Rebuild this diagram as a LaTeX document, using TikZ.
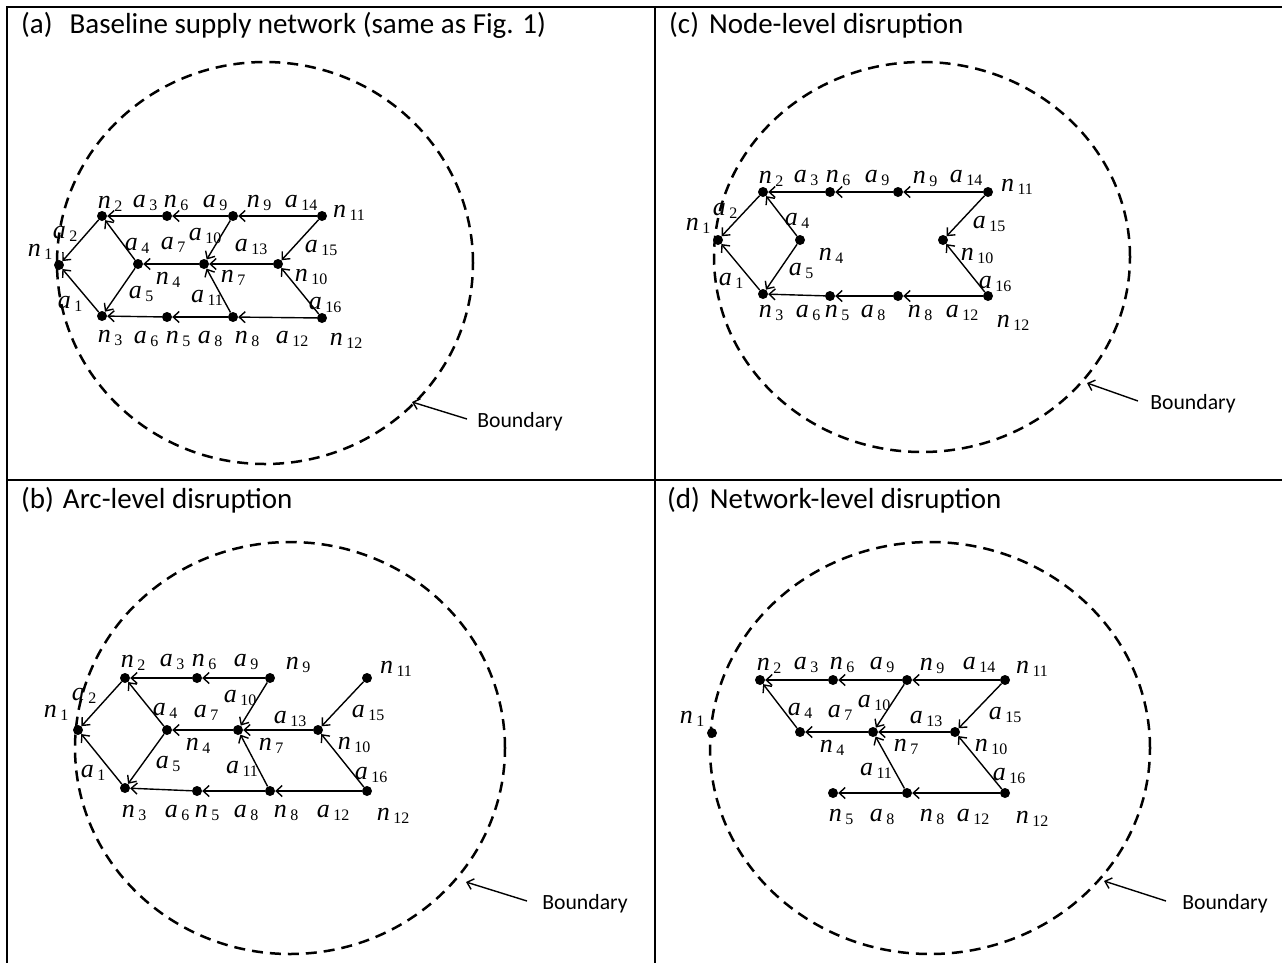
\documentclass[tikz,border=0pt]{standalone}
\usepackage{fontspec}
\setmainfont{Liberation Serif}
\newfontfamily\calfont{Carlito}
\usetikzlibrary{arrows.meta}
\newcommand{\lbl}[2]{{\fontsize{26}{26}\selectfont\itshape #1}\hspace{3.5pt}\raisebox{-3pt}{\fontsize{16}{16}\selectfont #2}}
\tikzset{
  frame/.style={line width=2pt, line cap=rect},
  dotn/.style={circle, fill=black, inner sep=0pt, minimum size=10pt},
  arc/.style={line width=1.4pt, -{Straight Barb[length=6pt,width=11pt]}},
  lab/.style={inner sep=0pt, font=\rmfamily},
  bound/.style={line width=2.5pt, dash pattern=on 11pt off 7pt},
  title/.style={inner sep=0pt, font=\calfont\fontsize{29}{32}\selectfont, anchor=base west},
  bnd/.style={inner sep=0pt, font=\calfont\fontsize{21.7}{24}\selectfont}
}
\begin{document}
\begin{tikzpicture}[x=1pt, y=-1pt]
\useasboundingbox (0,0) rectangle (1282,962);
% frame
\draw[frame] (7,962) -- (7,7) -- (1282,7);
\draw[frame] (7,480) -- (1282,480);
\draw[frame] (655,7) -- (655,962);
% titles
\node[title] (ta) at (21,33) {(a)\hspace{17pt}Baseline supply network (same as Fig. 1)};
\node[title] (tb) at (21,508) {(b)\hspace{9pt}Arc-level disruption};
\node[title] (tc) at (669,33) {(c)\hspace{10pt}Node-level disruption};
\node[title] (td) at (667,508) {(d)\hspace{10pt}Network-level disruption};
% boundaries
\draw[bound] (265,263) ellipse [x radius=208pt, y radius=201pt];
\draw[bound] (290,748) ellipse [x radius=215pt, y radius=206pt];
\draw[bound] (922,257) ellipse [x radius=208pt, y radius=195pt];
\draw[bound] (930,748) ellipse [x radius=220pt, y radius=206pt];
\node[bnd] (Ab) at (520,422) {Boundary};
\node[bnd] (Bb) at (585,904) {Boundary};
\node[bnd] (Cb) at (1193,404) {Boundary};
\node[bnd] (Db) at (1225,904) {Boundary};
\coordinate (Abs) at (467,419); \coordinate (Abt) at (412,402);
\coordinate (Bbs) at (527,901); \coordinate (Bbt) at (466,882);
\coordinate (Cbs) at (1138,401); \coordinate (Cbt) at (1087,383);
\coordinate (Dbs) at (1166,901); \coordinate (Dbt) at (1104,881);
\draw[arc] (Abs) -- (Abt);
\draw[arc] (Bbs) -- (Bbt);
\draw[arc] (Cbs) -- (Cbt);
\draw[arc] (Dbs) -- (Dbt);
% nodes
\foreach \nm/\x/\y in {An1/59/265, An2/102/216, An6/167/216, An9/233/216, An11/322/216, An4/138/264, An7/204/264, An10/278/264, An3/102/316, An5/167/317, An8/233/317, An12/322/318,
  Bn1/78/730, Bn2/125/678, Bn6/197/678, Bn9/270/678, Bn11/367/678, Bn4/167/730, Bn7/238/730, Bn10/318/730, Bn3/125/788, Bn5/197/791, Bn8/270/791, Bn12/367/791,
  Cn1/718/240, Cn2/763/192, Cn6/830/192, Cn9/898/192, Cn11/988/192, Cn4/800/240, Cn10/943/240, Cn3/763/294, Cn5/830/296, Cn8/898/296, Cn12/988/296,
  Dn1/712/733, Dn2/760/680, Dn6/833/680, Dn9/907/680, Dn11/1005/680, Dn4/800/732, Dn7/873/732, Dn10/955/732, Dn5/833/793, Dn8/907/793, Dn12/1005/793}
  \node[dotn] (\nm) at (\x,\y) {};
% arcs
\foreach \s/\t in {An2/An1, An3/An1, An6/An2, An9/An6, An11/An9, An4/An2, An4/An3, An7/An4, An9/An7, An10/An7, An11/An10, An8/An7, An5/An3, An8/An5, An12/An8, An12/An10,
  Bn2/Bn1, Bn3/Bn1, Bn6/Bn2, Bn9/Bn6, Bn4/Bn2, Bn4/Bn3, Bn7/Bn4, Bn9/Bn7, Bn10/Bn7, Bn11/Bn10, Bn8/Bn7, Bn5/Bn3, Bn8/Bn5, Bn12/Bn8, Bn12/Bn10,
  Cn2/Cn1, Cn3/Cn1, Cn6/Cn2, Cn9/Cn6, Cn11/Cn9, Cn4/Cn2, Cn4/Cn3, Cn11/Cn10, Cn12/Cn10, Cn5/Cn3, Cn8/Cn5, Cn12/Cn8,
  Dn6/Dn2, Dn9/Dn6, Dn11/Dn9, Dn4/Dn2, Dn7/Dn4, Dn9/Dn7, Dn10/Dn7, Dn11/Dn10, Dn8/Dn7, Dn8/Dn5, Dn12/Dn8, Dn12/Dn10}
  \draw[arc] (\s) -- (\t);
% labels
\foreach \nm/\vl/\vs/\x/\y in {
  ALn2/n/2/110/204, ALa3/a/3/145/203, ALn6/n/6/176/203, ALa9/a/9/215/203, ALn9/n/9/259/203, ALa14/a/14/301/203, ALn11/n/11/349/213,
  ALa2/a/2/65/234, ALn1/n/1/40/252, ALa4/a/4/137/246, ALa7/a/7/173/245, ALa10/a/10/205/236, ALa13/a/13/251/247, ALa15/a/15/321/248,
  ALn4/n/4/168/280, ALn7/n/7/233/278, ALn10/n/10/311/277, ALa5/a/5/141/294, ALa11/a/11/207/298, ALa16/a/16/325/305, ALa1/a/1/70/304,
  ALn3/n/3/110/338, ALa6/a/6/146/339, ALn5/n/5/178/339, ALa8/a/8/210/339, ALn8/n/8/247/339, ALa12/a/12/292/339, ALn12/n/12/346/341,
  BLn2/n/2/133/663, BLa3/a/3/172/662, BLn6/n/6/204/662, BLa9/a/9/246/662, BLn9/n/9/298/665, BLn11/n/11/396/669,
  BLa2/a/2/84/696, BLn1/n/1/56/713, BLa10/a/10/240/698, BLa4/a/4/165/711, BLa7/a/7/206/713, BLa13/a/13/290/719, BLa15/a/15/368/713,
  BLn4/n/4/198/746, BLn7/n/7/271/746, BLn10/n/10/354/745, BLa1/a/1/93/773, BLa5/a/5/168/764, BLa11/a/11/242/769, BLa16/a/16/371/775,
  BLn3/n/3/134/813, BLa6/a/6/177/813, BLn5/n/5/207/813, BLa8/a/8/246/813, BLn8/n/8/286/813, BLa12/a/12/333/813, BLn12/n/12/393/816,
  CLn2/n/2/771/179, CLa3/a/3/806/178, CLn6/n/6/838/178, CLa9/a/9/877/178, CLn9/n/9/925/179, CLa14/a/14/966/178, CLn11/n/11/1017/187,
  CLa2/a/2/725/211, CLn1/n/1/698/226, CLa4/a/4/797/221, CLa15/a/15/989/224, CLn4/n/4/831/256, CLn10/n/10/977/256,
  CLa5/a/5/801/271, CLa16/a/16/995/284, CLa1/a/1/731/281,
  CLn3/n/3/771/313, CLa6/a/6/808/313, CLn5/n/5/837/313, CLa8/a/8/873/313, CLn8/n/8/920/313, CLa12/a/12/962/313, CLn12/n/12/1013/323,
  DLn2/n/2/769/666, DLa3/a/3/806/665, DLn6/n/6/842/665, DLa9/a/9/882/665, DLn9/n/9/932/666, DLa14/a/14/979/665, DLn11/n/11/1032/669,
  DLn1/n/1/692/719, DLa10/a/10/874/703, DLa4/a/4/800/711, DLa7/a/7/840/713, DLa13/a/13/926/719, DLa15/a/15/1005/715,
  DLn4/n/4/832/748, DLn7/n/7/906/747, DLn10/n/10/991/747, DLa11/a/11/876/771, DLa16/a/16/1009/776,
  DLn5/n/5/841/817, DLa8/a/8/882/817, DLn8/n/8/932/817, DLa12/a/12/973/817, DLn12/n/12/1032/819}
  \node[lab] (\nm) at (\x,\y) {\lbl{\vl}{\vs}};
\end{tikzpicture}
\end{document}
